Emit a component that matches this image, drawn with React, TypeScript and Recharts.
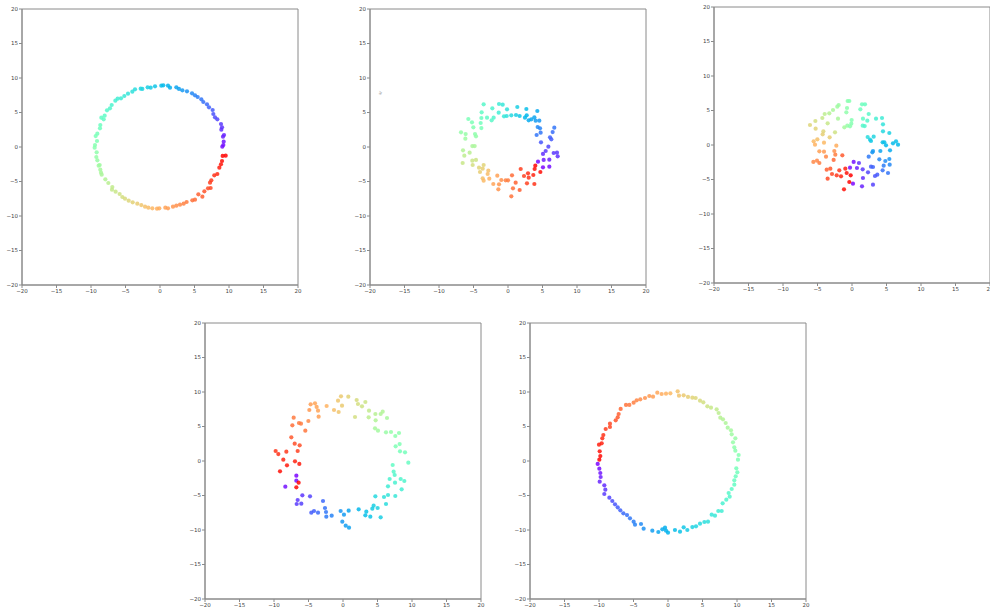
import React from 'react';
import { ScatterChart, Scatter, XAxis, YAxis, ReferenceArea } from 'recharts';

type P = [number, number] | [number, number, number];

const tickValues = [-20, -15, -10, -5, 0, 5, 10, 15, 20];

const ring1: P[] = [
  [9.03, 0.05], [9.18, 0.29], [9.23, 0.77], [9.13, 1.5], [9.28, 1.74], [8.89, 2.51], [8.99, 2.85], [8.84, 3.33],
  [8.31, 4.01], [7.97, 4.3], [7.73, 4.78], [7.63, 5.36], [7.1, 5.75], [6.81, 6.18], [6.28, 6.52], [5.99, 6.91],
  [5.46, 7.25], [5.07, 7.49], [4.64, 7.78], [3.91, 8.07], [3.24, 8.21], [2.75, 8.41], [2.37, 8.65], [1.45, 8.6],
  [1.16, 8.89], [0.48, 8.94], [0.19, 8.89], [-0.72, 8.79], [-1.35, 8.6], [-1.79, 8.65], [-2.56, 8.41], [-2.8, 8.45],
  [-3.62, 8.36], [-4.01, 8.02], [-4.64, 7.73], [-5.17, 7.39], [-5.65, 7.05], [-6.14, 7.0], [-6.47, 6.71], [-7.0, 6.09],
  [-7.25, 5.6], [-7.68, 5.31], [-8.02, 4.54], [-8.16, 4.01], [-8.5, 4.25], [-8.65, 3.19], [-8.7, 2.71], [-9.08, 1.93],
  [-9.32, 1.59], [-9.13, 0.87], [-9.42, 0.29], [-9.47, -0.1], [-9.18, -0.77], [-9.23, -1.45], [-9.08, -1.93], [-8.74, -2.61],
  [-8.89, -2.71], [-8.65, -3.29], [-8.55, -3.72], [-8.45, -4.01], [-7.92, -4.69], [-7.49, -5.22], [-6.91, -5.8], [-6.96, -6.18],
  [-6.43, -6.47], [-5.85, -6.81], [-5.46, -7.25], [-5.07, -7.49], [-4.54, -7.78], [-3.96, -8.02], [-3.29, -8.21], [-2.71, -8.41],
  [-2.17, -8.65], [-1.69, -8.79], [-1.11, -8.89], [-0.43, -8.94], [-0.1, -8.89], [0.77, -8.79], [1.16, -8.89], [1.88, -8.65],
  [2.37, -8.5], [2.9, -8.36], [3.43, -8.21], [3.86, -7.97], [4.69, -7.73], [5.07, -7.63], [5.56, -6.86], [6.14, -7.2],
  [6.43, -6.43], [6.96, -5.99], [7.34, -5.94], [7.25, -5.17], [7.44, -4.83], [7.87, -4.11], [8.31, -3.91], [8.6, -3.0],
  [8.84, -2.51], [8.99, -2.03], [9.08, -1.3], [9.52, -1.26],
];

const ring2: P[] = [
  [-3.53, 6.18], [-2.27, 5.6], [-1.3, 6.23], [-0.77, 6.14], [-0.14, 5.46], [1.35, 5.8], [2.66, 5.51], [4.25, 5.22],
  [-1.35, 4.98], [-2.08, 4.25], [-2.37, 3.86], [-3.04, 4.25], [-3.86, 4.2], [-3.82, 5.02], [-0.58, 4.44], [-0.19, 4.49],
  [0.48, 4.59], [1.16, 4.64], [1.69, 4.49], [2.46, 4.25], [2.71, 4.59], [3.0, 3.86], [3.38, 4.01], [3.82, 4.3],
  [4.01, 3.82], [4.54, 3.82],
  [-5.75, 4.06], [-5.22, 3.57], [-5.02, 2.85], [-3.96, 3.48], [-3.86, 2.75], [-6.81, 2.13], [-6.14, 1.88], [-4.78, 1.88],
  [-4.64, 1.55], [-6.18, 1.21], [-5.17, 0.14], [-4.83, 0.14], [-6.52, -0.48], [-5.56, -0.82], [-6.33, -1.26], [-5.17, -1.98],
  [-4.64, -1.88], [-6.57, -2.32], [-5.12, -2.61],
  [4.3, 2.9], [4.64, 2.71], [4.73, 2.08], [4.15, 1.74], [6.71, 2.8], [6.47, 2.17], [6.09, 1.4], [6.28, 1.11],
  [4.78, 0.68], [5.85, 0.05], [5.46, -0.58], [5.07, -1.01], [6.62, -0.87], [7.1, -0.82], [7.2, -1.35], [5.99, -1.84],
  [5.17, -1.88], [4.35, -2.13], [5.07, -2.95], [5.99, -2.85],
  [-3.53, -2.61], [-4.2, -3.0], [-3.67, -3.14], [-2.85, -3.43], [-4.06, -3.62], [-2.95, -3.91], [-3.67, -4.54], [-3.53, -4.88],
  [-2.71, -4.59], [-1.55, -4.15], [0.58, -4.11], [-0.97, -4.78], [-0.34, -4.83], [0.0, -4.83], [-2.13, -5.36], [-1.3, -5.41],
  [-1.4, -6.14], [0.48, -7.15], [0.72, -5.99], [1.69, -6.23], [1.11, -5.17],
  [1.84, -3.19], [2.9, -3.82], [2.32, -4.2], [3.0, -4.44], [3.67, -4.06], [3.86, -3.19], [3.96, -2.71], [4.69, -3.62],
  [2.75, -5.27], [3.82, -5.36],
];

const ring3: P[] = [
  [-0.63, 6.38], [-0.39, 6.38], [-1.93, 5.8], [-2.13, 5.56], [-2.75, 5.07], [-3.29, 4.59], [-3.96, 4.49], [-0.72, 5.36],
  [-0.82, 4.73], [1.45, 5.89], [1.88, 5.89], [1.21, 5.17], [2.42, 4.49], [-0.05, 3.62], [-0.1, 3.09], [-0.68, 2.8],
  [-0.29, 2.71], [-1.11, 2.56], [-2.03, 3.82], [-4.3, 3.91], [-3.53, 3.14], [-5.31, 3.48], [-6.09, 2.9], [-5.27, 2.37],
  [-4.15, 1.98], [-4.25, 1.55], [-2.46, 1.84], [-3.24, 1.11], [-5.02, 0.82], [-5.56, 0.53], [-4.06, 0.34], [-5.36, 0.05],
  [-2.27, -0.1], [-2.56, -0.87], [-4.06, -0.97], [-4.73, -0.92], [-3.77, -1.69], [-2.42, -1.4], [-1.4, -1.5], [-5.6, -2.46],
  [-5.07, -2.27], [-4.73, -2.61],
  [1.59, 3.82], [2.22, 3.53], [3.48, 3.82], [4.35, 3.91], [4.49, 3.0], [1.55, 2.8], [1.84, 2.75], [4.49, 1.98],
  [5.41, 1.74], [2.27, 1.16], [3.14, 1.21], [2.61, 0.77], [2.75, 0.58], [4.44, 0.39], [4.69, 0.39], [5.94, 0.24],
  [6.38, 0.53], [6.67, 0.05], [4.93, -0.05], [4.11, -0.87], [3.04, -0.87], [2.95, -1.06], [5.51, -0.77],
  [2.42, -1.69], [3.96, -2.08], [4.83, -2.32], [5.41, -2.03], [5.46, -2.85], [4.59, -3.0], [4.44, -3.67], [5.22, -4.06],
  [3.67, -4.3], [3.33, -4.49], [2.32, -3.96], [1.01, -2.61],
  [0.24, -2.46], [-0.29, -3.29, 0.02], [0.72, -3.33], [1.55, -3.53], [2.75, -3.14], [3.04, -3.19], [1.59, -4.78], [0.14, -5.6],
  [1.45, -5.99], [3.04, -5.75],
  [-2.66, -2.17], [-3.67, -3.57], [-3.14, -3.43], [-1.84, -3.67], [-0.97, -3.43], [-0.19, -4.4], [-0.77, -4.06], [-2.9, -4.2],
  [-3.53, -4.88], [-2.22, -4.4], [-1.59, -4.54], [-0.39, -5.36], [-1.16, -6.43],
];

const ring4: P[] = [
  [-0.29, 9.37], [0.77, 9.32], [-0.72, 8.74], [1.98, 8.84], [3.24, 8.55], [2.17, 8.26], [2.75, 7.92], [-0.14, 8.02],
  [-1.3, 7.39], [-0.63, 7.1], [-2.37, 7.97], [1.74, 6.38],
  [-4.69, 8.21], [-4.06, 8.36], [-3.82, 7.83], [-4.88, 7.39], [-3.62, 7.29], [-3.53, 6.43], [-7.15, 6.28], [-6.38, 5.51],
  [-6.09, 5.41], [-7.34, 5.17], [-5.02, 5.8], [-5.46, 4.4], [-7.49, 3.43], [-7.0, 2.51], [-6.28, 2.27], [-6.57, 1.45],
  [3.77, 7.29], [4.69, 6.81], [5.46, 6.81], [5.75, 7.15], [6.38, 6.23], [3.72, 6.33], [4.73, 5.89], [4.64, 4.73],
  [5.07, 4.4], [6.23, 4.15], [6.96, 4.2], [8.12, 4.06], [7.58, 3.62], [7.63, 2.13], [8.21, 2.46], [8.26, 1.4],
  [8.99, 1.26], [9.47, -0.24], [7.2, -0.58],
  [7.34, -1.55], [7.49, -2.03], [6.76, -2.61], [8.36, -2.61], [8.89, -2.9], [7.54, -3.14], [6.52, -3.67], [8.5, -4.11],
  [7.58, -5.07], [6.52, -4.93], [5.94, -5.22], [4.69, -5.12], [6.23, -6.23], [4.44, -6.47], [5.02, -6.81], [4.25, -6.91],
  [3.38, -7.34], [3.24, -7.87], [3.96, -8.07], [5.46, -8.16], [2.27, -7.0],
  [0.82, -7.2], [-0.34, -7.25], [0.14, -7.78], [-1.64, -7.92], [-2.46, -7.39], [-2.42, -8.07], [-2.61, -6.81], [-2.9, -5.8],
  [-3.62, -7.49], [-4.2, -7.25], [-4.59, -7.49], [-0.1, -8.79], [0.39, -9.37], [0.87, -9.66],
  [-6.76, -2.13], [-6.76, -2.85], [-8.36, -3.72], [-5.89, -4.98], [-4.78, -5.12], [-6.57, -5.65], [-6.71, -6.23], [-6.04, -6.18],
  [-9.76, 1.45], [-9.37, 1.01], [-8.21, 1.35], [-8.65, 0.19], [-8.12, -0.63], [-6.96, -0.05], [-6.33, -0.43], [-9.13, -1.5],
  [-6.43, -3.14, 0.99], [-6.76, -3.82, 0.99],
];

const ring5: P[] = [
  [-1.55, 9.9], [-0.92, 9.71], [-0.29, 9.76], [0.34, 9.81], [1.4, 10.1], [1.59, 9.47], [2.27, 9.52], [2.9, 9.28],
  [3.53, 9.18], [4.01, 9.13], [4.64, 8.74], [5.12, 8.5], [5.7, 7.92], [6.23, 7.73], [7.05, 7.49], [7.34, 6.96],
  [7.58, 6.28], [7.97, 6.04], [8.36, 5.51], [8.65, 4.83], [9.13, 4.44], [9.23, 3.86], [9.76, 3.29], [9.42, 2.71],
  [9.61, 1.98], [9.76, 1.5], [10.24, 0.87], [10.14, 0.19], [9.9, -1.06], [10.05, -1.64], [9.81, -2.22], [9.61, -2.8],
  [9.61, -3.43], [9.23, -4.06], [8.79, -4.64], [8.94, -5.17], [8.45, -5.6], [7.92, -6.14], [7.78, -7.25], [7.29, -7.25],
  [6.81, -7.92], [6.33, -7.78], [5.8, -8.79], [5.27, -8.84], [4.64, -9.08], [4.06, -9.47], [3.53, -9.57], [2.8, -10.0],
  [2.27, -9.61], [1.74, -10.24], [1.01, -10.0], [0.0, -10.39], [-0.43, -9.66], [-0.29, -10.1], [-0.82, -9.9], [-1.4, -10.29],
  [-2.27, -10.1], [-3.53, -9.81], [-3.91, -9.13], [-4.78, -9.23], [-4.98, -8.79], [-5.51, -8.31], [-5.94, -7.83], [-6.47, -7.58],
  [-6.91, -7.15], [-7.29, -6.71], [-7.68, -6.28], [-8.07, -5.8], [-8.5, -5.31], [-9.23, -4.78], [-9.08, -4.15], [-9.23, -3.53],
  [-9.9, -3.0], [-9.76, -2.32], [-9.81, -1.74], [-9.95, -1.11], [-10.19, -0.43], [-9.95, 0.19], [-9.81, 0.72], [-9.9, 1.4],
  [-9.61, 2.56], [-10.0, 2.37], [-9.52, 3.29], [-9.37, 3.77], [-9.03, 4.64], [-8.41, 4.93], [-8.41, 5.41], [-7.58, 5.89],
  [-7.29, 6.33], [-7.15, 6.81], [-6.86, 7.54], [-6.09, 8.12], [-5.6, 8.12], [-4.98, 8.45], [-4.54, 8.79], [-4.01, 8.94],
  [-3.33, 9.13], [-2.71, 9.42], [-2.17, 9.32],
];

// angle (degrees) where the colour ring starts (purple) for each panel
const startAngles = [-6, -32, -92, 196, 180.5];
const rings = [ring1, ring2, ring3, ring4, ring5];
// tiny stray annotation seen in panel 2
const strayNote = { panel: 1, x: -18.5, y: 7.8, text: 'a/' };
// plot-area top-left corner of each panel on the page
const panelPos = [
  [22, 9],
  [370, 9],
  [714, 7],
  [205, 323],
  [530, 323],
];

function rainbow(t: number): string {
  const clip = (v: number) => Math.max(0, Math.min(1, v));
  const r = clip(Math.abs(2 * t - 0.5));
  const g = clip(Math.sin(Math.PI * t));
  const b = clip(Math.cos((Math.PI * t) / 2));
  return `rgb(${Math.round(r * 255)},${Math.round(g * 255)},${Math.round(b * 255)})`;
}

function buildData(ring: P[], start: number) {
  return ring.map((p) => {
    let t: number;
    if (p.length === 3) t = p[2] as number;
    else {
      const a = (Math.atan2(p[1], p[0]) * 180) / Math.PI;
      t = (((a - start) % 360) + 360) % 360 / 360;
    }
    return { x: p[0], y: p[1], c: rainbow(t) };
  });
}

const fmt = (v: number) => (v < 0 ? '\u2212' + Math.abs(v) : String(v));

const AXIS = '#8a8a8a';
const PLOT = 276;
const YW = 30;
const MT = 10;
const MR = 10;
const XH = 20;

const Dot = (props: any) => {
  const { cx, cy, payload } = props;
  if (cx == null || cy == null) return null;
  return <circle cx={cx} cy={cy} r={2.1} fill={payload.c} fillOpacity={0.85} />;
};

const NoteMark = (props: any) => {
  const { cx, cy } = props;
  if (cx == null || cy == null) return null;
  return (
    <text
      x={cx}
      y={cy}
      fontSize={4}
      fill="#999"
      textAnchor="middle"
      dominantBaseline="middle"
      transform={`rotate(-70 ${cx} ${cy})`}
      fontFamily="DejaVu Sans"
    >
      {strayNote.text}
    </text>
  );
};

function Panel({ idx }: { idx: number }) {
  const data = buildData(rings[idx], startAngles[idx]);
  const [px, py] = panelPos[idx];
  const tickStyle = { fontSize: 5.5, fill: '#444', fontFamily: 'DejaVu Sans' };
  return (
    <div style={{ position: 'absolute', left: px - YW, top: py - MT }}>
      <ScatterChart
        width={PLOT + YW + MR}
        height={PLOT + MT + XH}
        margin={{ top: MT, right: MR, bottom: 0, left: 0 }}
      >
        <XAxis
          type="number"
          dataKey="x"
          domain={[-20, 20]}
          ticks={tickValues}
          allowDataOverflow
          tickFormatter={fmt}
          tick={tickStyle}
          tickSize={3}
          tickMargin={1}
          height={XH}
          stroke={AXIS}
          tickLine={{ stroke: AXIS }}
          axisLine={{ stroke: AXIS }}
        />
        <YAxis
          type="number"
          dataKey="y"
          domain={[-20, 20]}
          ticks={tickValues}
          allowDataOverflow
          tickFormatter={fmt}
          tick={tickStyle}
          tickSize={3}
          tickMargin={1}
          width={YW}
          stroke={AXIS}
          tickLine={{ stroke: AXIS }}
          axisLine={{ stroke: AXIS }}
        />
        <ReferenceArea
          x1={-20}
          x2={20}
          y1={-20}
          y2={20}
          fill="none"
          stroke={AXIS}
          strokeWidth={1}
          ifOverflow="visible"
        />
        <Scatter data={data} shape={Dot} isAnimationActive={false} />
        {strayNote.panel === idx && (
          <Scatter
            data={[{ x: strayNote.x, y: strayNote.y }]}
            shape={NoteMark}
            isAnimationActive={false}
          />
        )}
      </ScatterChart>
    </div>
  );
}

export default function App() {
  return (
    <div
      style={{
        position: 'absolute',
        left: 0,
        top: 0,
        width: 990,
        height: 609,
        overflow: 'hidden',
        background: '#fff',
      }}
    >
      {[0, 1, 2, 3, 4].map((i) => (
        <Panel key={i} idx={i} />
      ))}
    </div>
  );
}
